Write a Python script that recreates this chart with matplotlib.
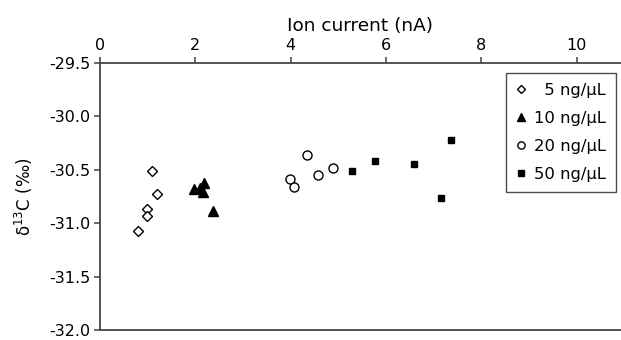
import matplotlib
matplotlib.use('Agg')
import matplotlib.pyplot as plt

plt.rcParams['font.family'] = ['DejaVu Sans']

# 各濃度的資料 (離子電流 nA, δ13C ‰)
x_5 = [1.10, 1.20, 0.99, 0.99, 0.79]
y_5 = [-30.51, -30.73, -30.87, -30.93, -31.07]

x_10 = [1.98, 2.10, 2.18, 2.17, 2.38]
y_10 = [-30.68, -30.67, -30.62, -30.71, -30.89]

x_20 = [3.98, 4.07, 4.35, 4.58, 4.88]
y_20 = [-30.59, -30.66, -30.36, -30.55, -30.48]

x_50 = [5.28, 5.77, 6.58, 7.37, 7.16]
y_50 = [-30.51, -30.42, -30.45, -30.22, -30.76]

labels = ['\u20075 ng/\u03bcL', '10 ng/\u03bcL', '20 ng/\u03bcL', '50 ng/\u03bcL']
xticks = [0, 2, 4, 6, 8, 10]
yticks = [-29.5, -30.0, -30.5, -31.0, -31.5, -32.0]

fig = plt.figure(figsize=(6.21, 3.4), dpi=100)
ax = fig.add_axes([0.161, 0.0294, 0.839, 0.7853])

ax.plot(x_5, y_5, 'D', ms=5.5, mfc='white', mec='black', mew=1.0, label=labels[0])
ax.plot(x_10, y_10, '^', ms=6.5, color='black', label=labels[1])
ax.plot(x_20, y_20, 'o', ms=6.5, mfc='white', mec='black', mew=1.0, label=labels[2])
ax.plot(x_50, y_50, 's', ms=5, color='black', label=labels[3])

ax.set_xlim(0, 10.93)
ax.set_ylim(-32.0, -29.5)
ax.set_xticks(xticks)
ax.set_yticks(yticks)
ax.set_yticklabels([f'{v:.1f}' for v in yticks])
ax.xaxis.tick_top()
ax.xaxis.set_label_position('top')
ax.tick_params(axis='both', direction='out', length=4.5, width=1.1, labelsize=11.5,
               color='#444444', pad=2.5)
ax.spines['right'].set_visible(False)
for s in ['top', 'left', 'bottom']:
    ax.spines[s].set_color('#444444')
    ax.spines[s].set_linewidth(1.3)

ax.set_xlabel('Ion current (nA)', fontsize=13.3, labelpad=5)
ax.set_ylabel('\u03b4$^{13}$C (\u2030)', fontsize=12, labelpad=10)

leg = ax.legend(loc='upper right', bbox_to_anchor=(0.990, 0.9625), frameon=True, fancybox=False,
                edgecolor='#222222', fontsize=11.8, handlelength=0.6, handletextpad=0.5,
                markerscale=0.8, borderpad=0.6, labelspacing=0.8, borderaxespad=0)
leg.get_frame().set_linewidth(1.0)

fig.savefig('out.png', dpi=100)
